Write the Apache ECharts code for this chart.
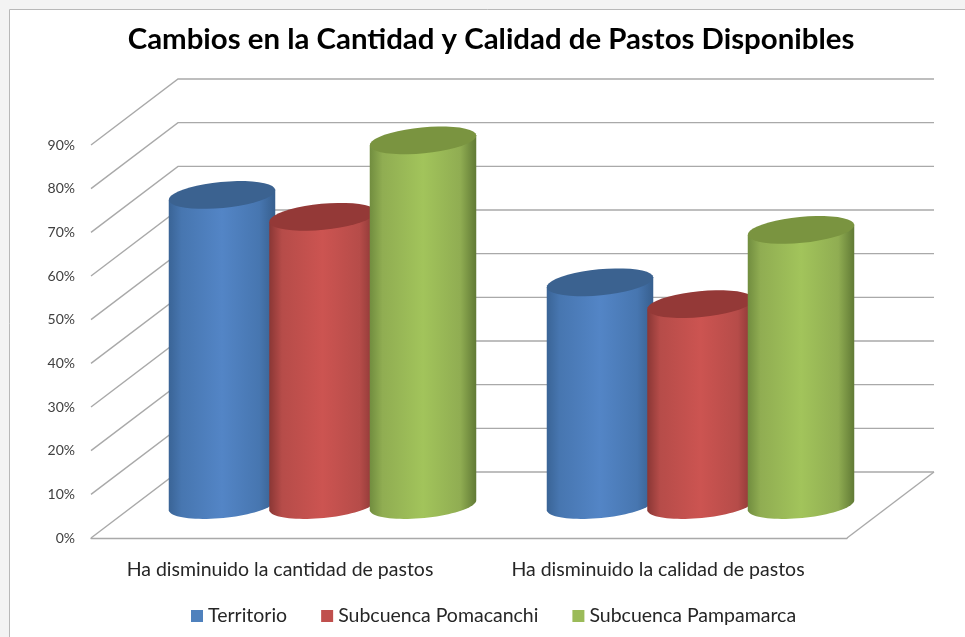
<!DOCTYPE html>
<html>
<head>
<meta charset="utf-8">
<script src="https://cdn.jsdelivr.net/npm/echarts@6/dist/echarts.min.js"></script>
<style>
  html, body { margin: 0; padding: 0; }
</style>
</head>
<body>
<div id="main" style="width:965px;height:637px;"></div>
<script>
const categories = ['Ha disminuido la cantidad de pastos', 'Ha disminuido la calidad de pastos'];
const territorio = [71, 51];
const pomacanchi = [66, 46];
const pampamarca = [83.5, 63];
const yTicks = [0, 10, 20, 30, 40, 50, 60, 70, 80, 90];

// fake 3d: how far the back wall sits from the front plane
const depthX = 87;
const depthY = 66;
const spacing = 100.5;
const rx = 53.5;
const ry = 13;
const tilt = -5.5 * Math.PI / 180;

function ellipsePoint(cx, cy, t) {
  return [
    cx + rx * Math.cos(t) * Math.cos(tilt) - ry * Math.sin(t) * Math.sin(tilt),
    cy + rx * Math.cos(t) * Math.sin(tilt) + ry * Math.sin(t) * Math.cos(tilt)
  ];
}

function arc(cx, cy, from, to) {
  const pts = [];
  for (let i = 0; i <= 40; i++) {
    pts.push(ellipsePoint(cx, cy, from + (to - from) * i / 40));
  }
  return pts;
}

function cylinder(offset, colors) {
  return function (params, api) {
    const top = api.coord([api.value(0), api.value(1)]);
    const base = api.coord([api.value(0), 0]);
    const cx = top[0] + depthX / 2 + offset * spacing - 1;
    const topY = top[1] - depthY / 2;
    const baseY = base[1] - depthY / 2;
    const body = arc(cx, baseY, 0, Math.PI).concat([ellipsePoint(cx, topY, Math.PI), ellipsePoint(cx, topY, 0)]);
    return {
      type: 'group',
      children: [
        {
          type: 'polygon',
          shape: {points: body},
          style: {
            fill: new echarts.graphic.LinearGradient(0, 0, 1, 0, [
              {offset: 0, color: colors.left},
              {offset: 0.12, color: colors.mid},
              {offset: 0.5, color: colors.light},
              {offset: 0.85, color: colors.mid},
              {offset: 1, color: colors.right}
            ])
          }
        },
        {
          type: 'polygon',
          shape: {points: arc(cx, topY, 0, Math.PI * 2)},
          style: {fill: colors.top}
        }
      ]
    };
  };
}

function renderWall(params, api) {
  const y = api.coord([0, api.value(0)])[1];
  const left = api.coord([0, api.value(0)])[0] - api.size([1, 0])[0] / 2;
  const width = api.size([1, 0])[0] * 2;
  const lineStyle = {stroke: '#a9a9a9', lineWidth: 1.4, fill: null};
  const children = [{
    type: 'polyline',
    shape: {points: [[left, y], [left + depthX, y - depthY], [left + width + depthX, y - depthY]]},
    style: lineStyle
  }];
  if (api.value(0) === 0) {
    children.push({
      type: 'polyline',
      shape: {points: [[left + width, y], [left + width + depthX, y - depthY]]},
      style: lineStyle
    });
  }
  return {type: 'group', children: children};
}

const blue = {left: '#3a6496', mid: '#4776b0', light: '#5385c6', right: '#375f8e', top: '#3b6290'};
const red = {left: '#8a3735', mid: '#b64c49', light: '#cc5451', right: '#863533', top: '#943937'};
const green = {left: '#718d3f', mid: '#90ad52', light: '#a2c45b', right: '#617a35', top: '#7a9440'};

const chart = echarts.init(document.getElementById('main'));
chart.setOption({
  backgroundColor: '#f3f3f3',
  animation: false,
  graphic: [{
    type: 'rect',
    z: -10,
    shape: {x: 9.5, y: 9.5, width: 970, height: 640},
    style: {fill: '#ffffff', stroke: '#b8b8b8', lineWidth: 1}
  }],
  title: {
    text: 'Cambios en la Cantidad y Calidad de Pastos Disponibles',
    left: 486,
    top: 20,
    textAlign: 'center',
    textStyle: {fontFamily: 'Lato', fontWeight: 'bold', fontSize: 29.4, color: '#000000'}
  },
  legend: {
    left: 186,
    top: 601,
    icon: 'rect',
    itemWidth: 12,
    itemHeight: 12,
    itemGap: 34,
    data: ['Territorio', 'Subcuenca Pomacanchi', 'Subcuenca Pampamarca'],
    textStyle: {fontFamily: 'Lato', fontSize: 19.5, color: '#262626'}
  },
  grid: {left: 91, right: 118, top: 145, bottom: 99},
  xAxis: {
    type: 'category',
    data: categories,
    axisLine: {lineStyle: {color: '#a9a9a9', width: 1.4}},
    axisTick: {show: false},
    axisLabel: {margin: 22, fontFamily: 'Lato', fontSize: 19.5, color: '#262626', interval: 0}
  },
  yAxis: {
    type: 'value',
    min: 0,
    max: 90,
    interval: 10,
    axisLine: {show: false},
    axisTick: {show: false},
    splitLine: {show: false},
    axisLabel: {
      margin: 16,
      fontFamily: 'Lato',
      fontSize: 14,
      color: '#404040',
      formatter: '{value}%'
    }
  },
  series: [
    {type: 'custom', name: 'pared', renderItem: renderWall, data: yTicks.map(v => [v]), silent: true, encode: {y: 0}},
    {
      type: 'custom', name: 'Territorio', itemStyle: {color: '#4f81bd'},
      renderItem: cylinder(-1, blue), data: territorio.map((v, i) => [i, v]), encode: {x: 0, y: 1}
    },
    {
      type: 'custom', name: 'Subcuenca Pomacanchi', itemStyle: {color: '#c0504d'},
      renderItem: cylinder(0, red), data: pomacanchi.map((v, i) => [i, v]), encode: {x: 0, y: 1}
    },
    {
      type: 'custom', name: 'Subcuenca Pampamarca', itemStyle: {color: '#9bbb59'},
      renderItem: cylinder(1, green), data: pampamarca.map((v, i) => [i, v]), encode: {x: 0, y: 1}
    }
  ]
});
window.addEventListener('resize', () => chart.resize());
</script>
</body>
</html>
